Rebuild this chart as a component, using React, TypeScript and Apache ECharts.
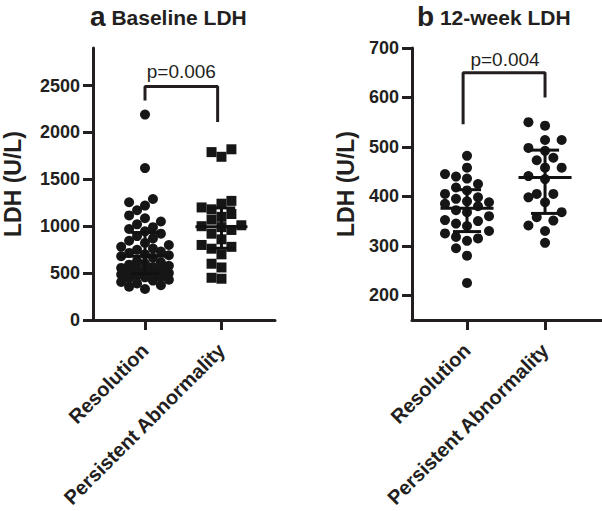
import React, { useEffect, useRef } from 'react';
import * as echarts from 'echarts';

const groups = ['Resolution', 'Persistent Abnormality'];

const baselineResolution = [
  330, 355, 370, 390, 405, 420, 430, 445, 455, 462, 475, 485, 492, 500, 512, 520, 533, 545, 555, 566,
  578, 590, 602, 615, 628, 665, 680, 690, 700, 715, 730, 748, 762, 780, 800, 822, 845, 870, 895, 920,
  945, 970, 990, 1020, 1050, 1085, 1115, 1170, 1220, 1255, 1290, 1620, 2190,
];
const baselinePersistent = [
  440, 450, 560, 600, 700, 760, 780, 800, 860, 920, 960, 990, 1000, 1010, 1070, 1100, 1130, 1180,
  1200, 1240, 1270, 1740, 1790, 1820,
];
const week12Resolution = [
  225, 280, 295, 310, 315, 318, 325, 330, 340, 345, 350, 352, 360, 368, 372, 380, 385, 388, 390, 395,
  398, 405, 412, 418, 425, 436, 440, 445, 458, 482,
];
const week12Persistent = [
  306, 330, 341, 351, 358, 368, 388, 398, 405, 405, 435, 441, 458, 458, 473, 478, 492, 498, 514, 514,
  543, 550,
];

const baselineTicks = [0, 500, 1000, 1500, 2000, 2500];
const week12Ticks = [200, 300, 400, 500, 600, 700];

const pBaseline = 'p=0.006';
const pWeek12 = 'p=0.004';
const bracketBaseline = [[1, 2340], [1, 2490], [1.95, 2490], [1.95, 2110]];
const bracketWeek12 = [[0.95, 546], [0.95, 650], [2, 650], [2, 600]];

const INK = '#231f20';
const DOT = '#161616';
const FONT = '"Liberation Sans", Arial, Helvetica, sans-serif';

function quantile(values: number[], p: number) {
  const s = [...values].sort((a, b) => a - b);
  const n = s.length;
  let pos = p * (n + 1);
  if (pos < 1) pos = 1;
  if (pos > n) pos = n;
  const lo = Math.floor(pos);
  const frac = pos - lo;
  if (lo >= n) return s[n - 1];
  return s[lo - 1] + frac * (s[lo] - s[lo - 1]);
}

function swarm(values: number[], pxPerY: number, step: number, d: number, maxK: number) {
  const idx = values.map((v, i) => i).sort((a, b) => values[a] - values[b]);
  const offs: number[] = new Array(values.length).fill(0);
  const placed: { o: number; v: number }[] = [];
  const ks: number[] = [0];
  for (let k = 1; k <= maxK; k++) ks.push(-k, k);
  idx.forEach((i) => {
    const v = values[i];
    let best = 0;
    let bestDist = -1;
    let chosen: number | null = null;
    for (const k of ks) {
      const o = k * step;
      let minD = Infinity;
      for (const p of placed) {
        const dx = o - p.o;
        const dy = (v - p.v) * pxPerY;
        const dd = Math.sqrt(dx * dx + dy * dy);
        if (dd < minD) minD = dd;
      }
      if (minD >= d) {
        chosen = o;
        break;
      }
      if (minD > bestDist) {
        bestDist = minD;
        best = o;
      }
    }
    const o = chosen === null ? best : chosen;
    offs[i] = o;
    placed.push({ o, v });
  });
  return offs;
}

function points(values: number[], center: number, xPx: number, yPx: number, step: number, d: number, maxK: number) {
  const offs = swarm(values, yPx, step, d, maxK);
  return values.map((v, i) => [center + offs[i] / xPx, v]);
}

function stats(values: number[], center: number) {
  return [center, quantile(values, 0.5), quantile(values, 0.25), quantile(values, 0.75)];
}

const renderBars = (params: any, api: any) => {
  const x = api.value(0);
  const med = api.value(1);
  const q1 = api.value(2);
  const q3 = api.value(3);
  const style = { stroke: '#111', lineWidth: 3 };
  const seg = (a: number[], b: number[]) => {
    const p1 = api.coord(a);
    const p2 = api.coord(b);
    return { type: 'line', shape: { x1: p1[0], y1: p1[1], x2: p2[0], y2: p2[1] }, style };
  };
  return {
    type: 'group',
    children: [
      seg([x - 0.34, med], [x + 0.34, med]),
      seg([x, q1], [x, q3]),
      seg([x - 0.18, q1], [x + 0.18, q1]),
      seg([x - 0.18, q3], [x + 0.18, q3]),
    ],
  };
};

function xAxisCfg(gridIndex: number, min: number, max: number) {
  return {
    type: 'value',
    gridIndex,
    min,
    max,
    axisLine: { show: true, onZero: false, lineStyle: { color: INK, width: 3 } },
    axisTick: { show: true, length: 10, customValues: [1, 2], lineStyle: { color: INK, width: 3 } },
    axisLabel: {
      customValues: [1, 2],
      formatter: (v: number) => groups[Math.round(v) - 1] ?? '',
      rotate: 45,
      margin: 27,
      fontSize: 20,
      fontWeight: 'bold',
      fontFamily: FONT,
      color: INK,
    },
    splitLine: { show: false },
  };
}

function yAxisCfg(gridIndex: number, min: number, max: number, ticks: number[], nameGap: number) {
  return {
    type: 'value',
    gridIndex,
    min,
    max,
    name: 'LDH (U/L)',
    nameLocation: 'middle',
    nameGap,
    nameTextStyle: { fontSize: 23, fontWeight: 'bold', fontFamily: FONT, color: INK },
    axisLine: { show: true, onZero: false, lineStyle: { color: INK, width: 3 } },
    axisTick: { show: true, length: 10, customValues: ticks, lineStyle: { color: INK, width: 3 } },
    axisLabel: {
      customValues: ticks,
      formatter: (v: number) => String(v),
      margin: 13,
      fontSize: 18,
      fontWeight: 'bold',
      fontFamily: FONT,
      color: INK,
    },
    splitLine: { show: false },
  };
}

function titleCfg(letter: string, text: string, left: number) {
  return {
    left,
    top: 2,
    padding: 0,
    text: `{l|${letter}}{t| ${text}}`,
    textStyle: {
      rich: {
        l: { fontSize: 28, lineHeight: 28, fontWeight: 'bold', fontFamily: FONT, color: INK, verticalAlign: 'bottom' },
        t: { fontSize: 21, lineHeight: 21, fontWeight: 'bold', fontFamily: FONT, color: INK, verticalAlign: 'bottom', padding: [0, 0, 2, 0] },
      },
    },
  };
}

function dots(values: number[], center: number, grid: number, symbol: string, yPx: number, xPx: number, step: number, d: number, maxK: number) {
  return {
    type: 'scatter',
    xAxisIndex: grid,
    yAxisIndex: grid,
    symbol,
    symbolSize: 10,
    itemStyle: { color: DOT, opacity: 1 },
    emphasis: { disabled: true },
    data: points(values, center, xPx, yPx, step, d, maxK),
  };
}

export default function App() {
  const ref = useRef<HTMLDivElement>(null);
  useEffect(() => {
    if (!ref.current) return;
    const chart = echarts.init(ref.current, undefined, { renderer: 'svg' });
    const yA = 272 / 2900;
    const yB = 272 / 550;
    const option: any = {
      animation: false,
      backgroundColor: '#fff',
      title: [titleCfg('a', 'Baseline LDH', 90), titleCfg('b', '12-week LDH', 417)],
      grid: [
        { left: 92, top: 48, width: 183, height: 272 },
        { left: 412, top: 48, width: 190, height: 272 },
      ],
      xAxis: [xAxisCfg(0, 0.32, 2.7), xAxisCfg(1, 0.295, 2.73)],
      yAxis: [yAxisCfg(0, 0, 2900, baselineTicks, 69), yAxisCfg(1, 150, 700, week12Ticks, 55)],
      series: [
        dots(baselineResolution, 1, 0, 'circle', yA, 77, 8, 9, 3),
        dots(baselinePersistent, 2, 0, 'rect', yA, 77, 10, 10, 2),
        dots(week12Resolution, 1, 1, 'circle', yB, 78, 11, 10.5, 2),
        dots(week12Persistent, 2, 1, 'circle', yB, 78, 8.3, 10.5, 2),
        {
          type: 'custom', xAxisIndex: 0, yAxisIndex: 0, z: 5, renderItem: renderBars,
          data: [stats(baselineResolution, 1), stats(baselinePersistent, 2)],
        },
        {
          type: 'custom', xAxisIndex: 1, yAxisIndex: 1, z: 5, renderItem: renderBars,
          data: [stats(week12Resolution, 1), stats(week12Persistent, 2)],
        },
        {
          type: 'line', xAxisIndex: 0, yAxisIndex: 0, showSymbol: false, symbol: 'none',
          lineStyle: { color: INK, width: 3 }, data: bracketBaseline,
        },
        {
          type: 'line', xAxisIndex: 1, yAxisIndex: 1, showSymbol: false, symbol: 'none',
          lineStyle: { color: INK, width: 3 }, data: bracketWeek12,
        },
        {
          type: 'scatter', xAxisIndex: 0, yAxisIndex: 0, symbolSize: 0.1,
          itemStyle: { color: 'transparent', opacity: 1 },
          label: { show: true, position: 'top', distance: 5, formatter: pBaseline, fontSize: 19, fontFamily: FONT, color: INK },
          data: [[1.475, 2490]],
        },
        {
          type: 'scatter', xAxisIndex: 1, yAxisIndex: 1, symbolSize: 0.1,
          itemStyle: { color: 'transparent', opacity: 1 },
          label: { show: true, position: 'top', distance: 4, formatter: pWeek12, fontSize: 19, fontFamily: FONT, color: INK },
          data: [[1.487, 650]],
        },
      ],
    };
    chart.setOption(option);
    return () => chart.dispose();
  }, []);
  return (
    <div
      ref={ref}
      style={{ position: 'fixed', left: 0, top: 0, width: 602, height: 511, background: '#fff' }}
    />
  );
}
